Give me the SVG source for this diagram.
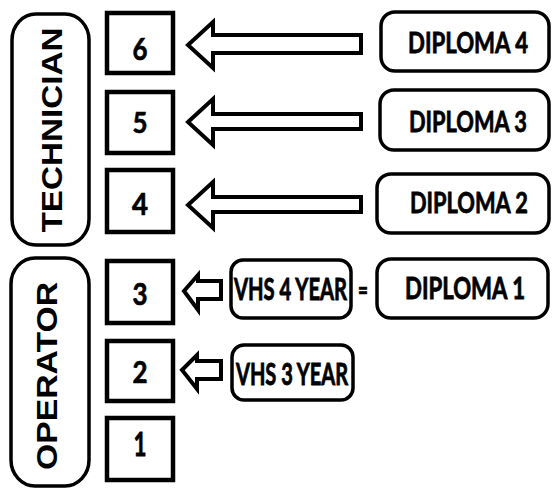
<svg xmlns="http://www.w3.org/2000/svg" width="553" height="489" viewBox="0 0 553 489">
<style>
.bg{fill:#fff}
.sq{fill:#fff;stroke:#000;stroke-width:4.5}
.rb{fill:#fff;stroke:#000;stroke-width:3.5}
.ar{fill:#fff;stroke:#000;stroke-width:4;stroke-linejoin:miter}
.t{font-family:Lato,"Open Sans","Liberation Sans",sans-serif;font-weight:700;fill:#000;stroke:#000;stroke-width:0.6;text-anchor:middle}
.side{font-family:"Liberation Sans",Arial,sans-serif;font-weight:700;fill:#000;text-anchor:middle}
</style>
<rect class="bg" x="0" y="0" width="553" height="489"/>
<g id="technician">
<rect class="rb" x="12" y="14" width="77" height="231" rx="24" ry="26"/>
<text class="side" font-size="29" transform="translate(62,130) rotate(-90)" textLength="205" lengthAdjust="spacingAndGlyphs">TECHNICIAN</text>
</g>
<g id="operator">
<rect class="rb" x="11" y="258" width="78" height="228" rx="24" ry="26"/>
<text class="side" font-size="30" transform="translate(57,376) rotate(-90)" textLength="188" lengthAdjust="spacingAndGlyphs">OPERATOR</text>
</g>
<g id="level6"><rect class="sq" x="107" y="13" width="66" height="60"/><text class="t" font-size="26" transform="translate(140,60) scale(1,1.15)" textLength="15" lengthAdjust="spacingAndGlyphs">6</text></g>
<g id="level5"><rect class="sq" x="107" y="92" width="66" height="61"/><text class="t" font-size="26" transform="translate(140,133) scale(1,1.1)" textLength="15" lengthAdjust="spacingAndGlyphs">5</text></g>
<g id="level4"><rect class="sq" x="107" y="170" width="66" height="62"/><text class="t" font-size="26" transform="translate(140,215) scale(1,1.15)" textLength="16" lengthAdjust="spacingAndGlyphs">4</text></g>
<g id="level3"><rect class="sq" x="107" y="261" width="66" height="62"/><text class="t" font-size="26" transform="translate(140,305) scale(1,1.15)" textLength="15" lengthAdjust="spacingAndGlyphs">3</text></g>
<g id="level2"><rect class="sq" x="107" y="341" width="66" height="60"/><text class="t" font-size="26" transform="translate(140,383) scale(1,1.15)" textLength="15" lengthAdjust="spacingAndGlyphs">2</text></g>
<g id="level1"><rect class="sq" x="107" y="418" width="66" height="62"/><text class="t" font-size="26" transform="translate(140,456) scale(1,1.28)" textLength="13" lengthAdjust="spacingAndGlyphs">1</text></g>
<g id="diploma4"><rect class="rb" x="381" y="12" width="168" height="59" rx="14"/><text class="t" font-size="22" transform="translate(468,53) scale(1,1.26)" textLength="120" lengthAdjust="spacingAndGlyphs">DIPLOMA 4</text></g>
<g id="diploma3"><rect class="rb" x="380" y="90" width="169" height="60" rx="14"/><text class="t" font-size="22" transform="translate(468,132) scale(1,1.26)" textLength="118" lengthAdjust="spacingAndGlyphs">DIPLOMA 3</text></g>
<g id="diploma2"><rect class="rb" x="377" y="174" width="172" height="59" rx="14"/><text class="t" font-size="22" transform="translate(469,213) scale(1,1.26)" textLength="118" lengthAdjust="spacingAndGlyphs">DIPLOMA 2</text></g>
<g id="diploma1"><rect class="rb" x="377" y="259" width="171" height="59" rx="14"/><text class="t" font-size="22" transform="translate(465,299) scale(1,1.36)" textLength="120" lengthAdjust="spacingAndGlyphs">DIPLOMA 1</text></g>
<g id="vhs4"><rect class="rb" x="231" y="260" width="120" height="58" rx="12"/><text class="t" font-size="21" transform="translate(290.5,300) scale(1,1.45)" textLength="113" lengthAdjust="spacingAndGlyphs">VHS 4 YEAR</text></g>
<g id="vhs3"><rect class="rb" x="232" y="345" width="121" height="55" rx="12"/><text class="t" font-size="21" transform="translate(292,385) scale(1,1.45)" textLength="112" lengthAdjust="spacingAndGlyphs">VHS 3 YEAR</text></g>
<text class="t" font-size="20" transform="translate(363,299) scale(1,1.2)" textLength="10" lengthAdjust="spacingAndGlyphs">=</text>
<g id="connectors">
<path class="ar" d="M188,45 L213,22 L213,35 L361,35 L361,53 L213,53 L213,68 Z"/>
<path class="ar" d="M188,122 L213,99 L213,114 L361,114 L361,129 L213,129 L213,145 Z"/>
<path class="ar" d="M188,205 L213,182 L213,197 L361,197 L361,212 L213,212 L213,228 Z"/>
<path class="ar" d="M184,291 L198,275 L198,281 L221,281 L221,299 L198,299 L198,310 Z"/>
<path class="ar" d="M182,370 L197,355 L197,361 L221,361 L221,379 L197,379 L197,389 Z"/>
</g>
</svg>
